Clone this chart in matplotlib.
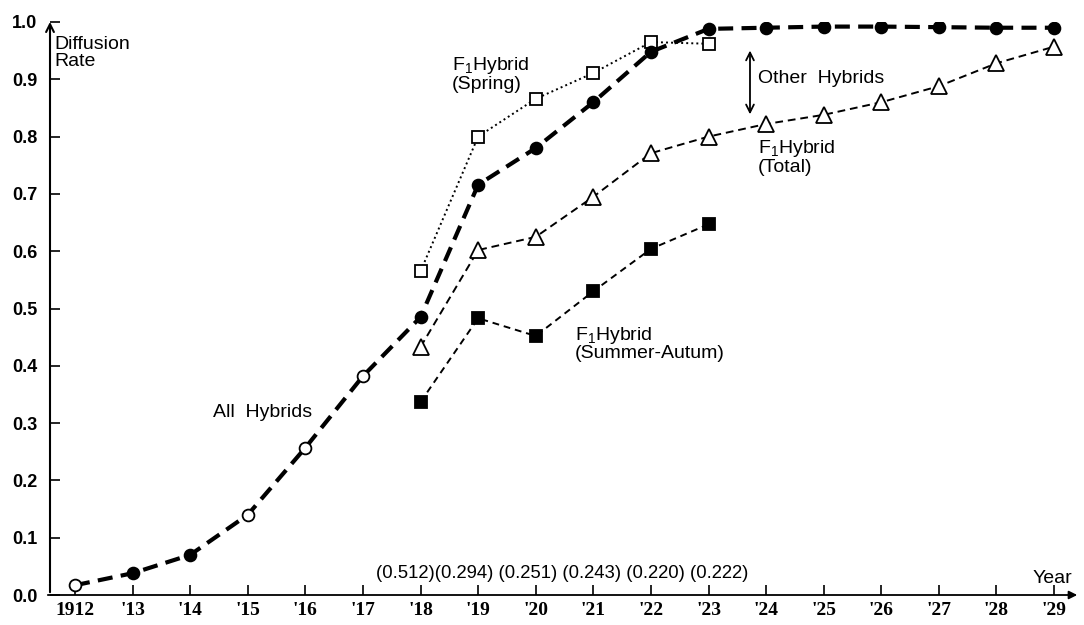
import matplotlib
matplotlib.use("Agg")
from matplotlib import pyplot as plt

plt.rcParams['font.family'] = ['Liberation Sans', 'DejaVu Sans']
plt.rcParams['mathtext.default'] = 'regular'

years = list(range(1912, 1930))
year_labels = ['1912'] + ["'%d" % (y % 100) for y in years[1:]]

# diffusion rate of all hybrids, 1912-1929
all_hybrids = [0.017, 0.038, 0.070, 0.140, 0.257, 0.382, 0.485, 0.716, 0.780,
               0.860, 0.948, 0.988, 0.990, 0.992, 0.992, 0.991, 0.990, 0.990]
# open circles for these years, filled for the rest
all_open = [1912, 1915, 1916, 1917]

spring_years = [1918, 1919, 1920, 1921, 1922, 1923]
spring = [0.565, 0.800, 0.866, 0.911, 0.965, 0.962]

total_years = list(range(1918, 1930))
total = [0.433, 0.602, 0.625, 0.695, 0.771, 0.800, 0.822, 0.838, 0.860, 0.888,
         0.928, 0.957]

summer_years = [1918, 1919, 1920, 1921, 1922, 1923]
summer = [0.337, 0.483, 0.452, 0.530, 0.604, 0.647]

ratios = ['0.512', '0.294', '0.251', '0.243', '0.220', '0.222']

fig = plt.figure(figsize=(10.84, 6.25), dpi=100)
ax = fig.add_axes([50 / 1084, 30 / 625, 1030 / 1084, 573 / 625])
ax.set_xlim(1911.566, 1929.45)
ax.set_ylim(0, 1.0)

# lines
ax.plot(years, all_hybrids, color='black', lw=3.0, ls=(0, (3.6, 2.0)), zorder=3)
ax.plot(spring_years, spring, color='black', lw=1.4, ls=(0, (1, 1.6)), zorder=2)
ax.plot(total_years, total, color='black', lw=1.4, ls=(0, (4, 2.5)), zorder=2)
ax.plot(summer_years, summer, color='black', lw=1.4, ls=(0, (3.5, 2.5)), zorder=2)

# markers
for y, v in zip(years, all_hybrids):
    face = 'white' if y in all_open else 'black'
    ax.plot(y, v, 'o', ms=8.5, mfc=face, mec='black', mew=1.3, zorder=5)
ax.plot(spring_years, spring, 's', ms=8, mfc='white', mec='black', mew=1.3,
        ls='none', zorder=4)
ax.plot(total_years, total, '^', ms=11.5, mfc='white', mec='black', mew=1.3,
        ls='none', zorder=4)
ax.plot(summer_years, summer, 's', ms=8, mfc='black', mec='black', mew=1.3,
        ls='none', zorder=4)

# axes with arrow heads
for s in ax.spines.values():
    s.set_visible(False)
ax.annotate('', xy=(1929.45, 0), xytext=(1911.48, 0),
            arrowprops=dict(arrowstyle='-|>', color='black', lw=1.3,
                            mutation_scale=12), annotation_clip=False)
ax.annotate('', xy=(1911.566, 1.005), xytext=(1911.566, 0),
            arrowprops=dict(arrowstyle='->', color='black', lw=1.5,
                            mutation_scale=14), annotation_clip=False)

ax.set_xticks(years)
ax.set_xticklabels(year_labels, fontfamily='Liberation Serif',
                   fontweight='bold', fontsize=14)
ax.set_yticks([i / 10 for i in range(11)])
ax.set_yticklabels(['%.1f' % (i / 10) for i in range(11)], fontsize=13,
                   fontweight='bold')
ax.tick_params(axis='both', direction='in', length=7, width=1.2, pad=5)
ax.tick_params(axis='y', pad=9)

txt = dict(fontsize=14, color='black', linespacing=0.95)
ax.text(1911.65, 0.975, 'Diffusion\nRate', va='top', ha='left', **txt)
ax.text(1918.55, 0.942, 'F$_1$Hybrid\n(Spring)', va='top', ha='left', **txt)
ax.text(1923.86, 0.902, 'Other  Hybrids', va='center', ha='left', **txt)
ax.text(1923.86, 0.797, 'F$_1$Hybrid\n(Total)', va='top', ha='left', **txt)
ax.text(1920.68, 0.471, 'F$_1$Hybrid\n(Summer-Autum)', va='top', ha='left', **txt)
ax.text(1914.4, 0.318, 'All  Hybrids', va='center', ha='left', **txt)
ax.text(1928.62, 0.028, 'Year', va='center', ha='left', **txt)
ax.text(1917.23, 0.037, ''.join('(%s)' % r if i < 2 else ' (%s)' % r
                                 for i, r in enumerate(ratios)),
        va='center', ha='left', fontsize=13.3, color='black')

# double arrow for the other hybrids gap
ax.annotate('', xy=(1923.72, 0.955), xytext=(1923.72, 0.834),
            arrowprops=dict(arrowstyle='<->', color='black', lw=1.3,
                            mutation_scale=14))

fig.savefig('out.png', dpi=100)
